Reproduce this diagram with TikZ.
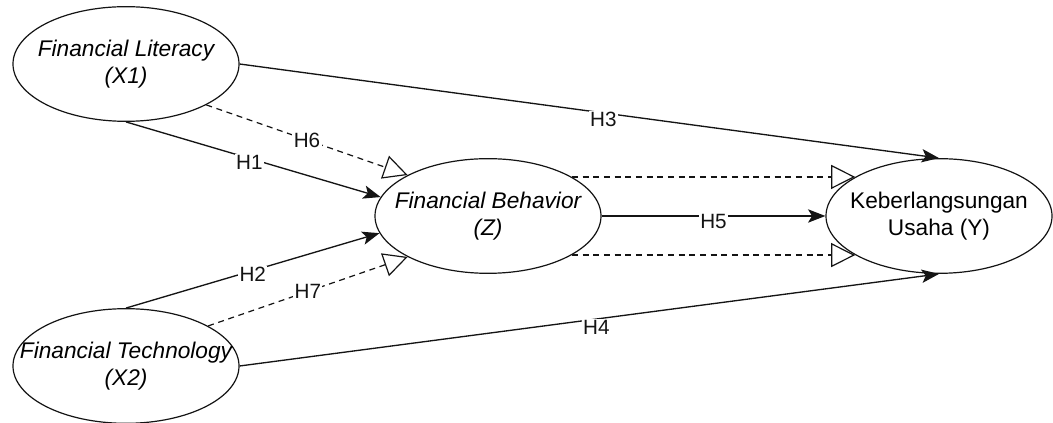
\documentclass[tikz,border=0pt]{standalone}
\usepackage{fontspec}
\setmainfont{Liberation Sans}
\usepackage{xcolor}
\usepackage{tikz}
\usetikzlibrary{shapes.geometric, arrows.meta}
\definecolor{mydark}{RGB}{20,20,20}
\tikzset{
  construct/.style={ellipse, draw=mydark, fill=white, minimum width=169.5pt,
    minimum height=86pt, inner xsep=-30pt, inner ysep=0pt, align=center,
    font=\fontsize{17}{20}\selectfont, line width=0.9pt},
  arrow/.style={-{Stealth[length=13pt, width=10pt, inset=3pt]}, line width=1pt, color=mydark},
  dasharrow/.style={-{Triangle[open, length=18pt, width=18pt]}, line width=0.9pt,
    color=mydark, dash pattern=on 4.5pt off 3.5pt},
  hyp/.style={fill=white, inner sep=1pt, font=\fontsize{15.5}{18}\selectfont, text=mydark}
}
\begin{document}
\begin{tikzpicture}[x=0.75pt, y=-0.75pt]
  \fill[white] (0,0) rectangle (1053,423);
  \useasboundingbox (0,0) rectangle (1053,423);

  \node[construct] (x1) at (126,64) {\itshape Financial Literacy\\\itshape (X1)};
  \node[construct] (x2) at (126,366) {\itshape Financial Technology\\\itshape (X2)};
  \node[construct] (z) at (488,216) {\itshape Financial Behavior\\\itshape (Z)};
  \node[construct] (y) at (939,216) {Keberlangsungan\\Usaha (Y)};

  \draw[arrow] (x1.south) -- node[hyp, xshift=-3pt, yshift=-2pt] {H1} (z.170);
  \draw[arrow] (x2.north) -- node[hyp, yshift=-3pt] {H2} (z.189);
  \draw[arrow] (x1.east) -- node[hyp, pos=0.52, yshift=-5pt] {H3} (y.north);
  \draw[arrow] (x2.east) -- node[hyp, pos=0.51, yshift=-6pt] {H4} (y.south);
  \draw[arrow] (z.east) -- node[hyp, yshift=-4pt] {H5} (y.west);

  \draw[dasharrow] (x1.-27) -- node[hyp] {H6} (z.153);
  \draw[dasharrow] (x2.26) -- node[hyp] {H7} (z.207);
  \draw[dasharrow] (z.25) -- (y.155);
  \draw[dasharrow] (z.-25) -- (y.205);
\end{tikzpicture}
\end{document}
